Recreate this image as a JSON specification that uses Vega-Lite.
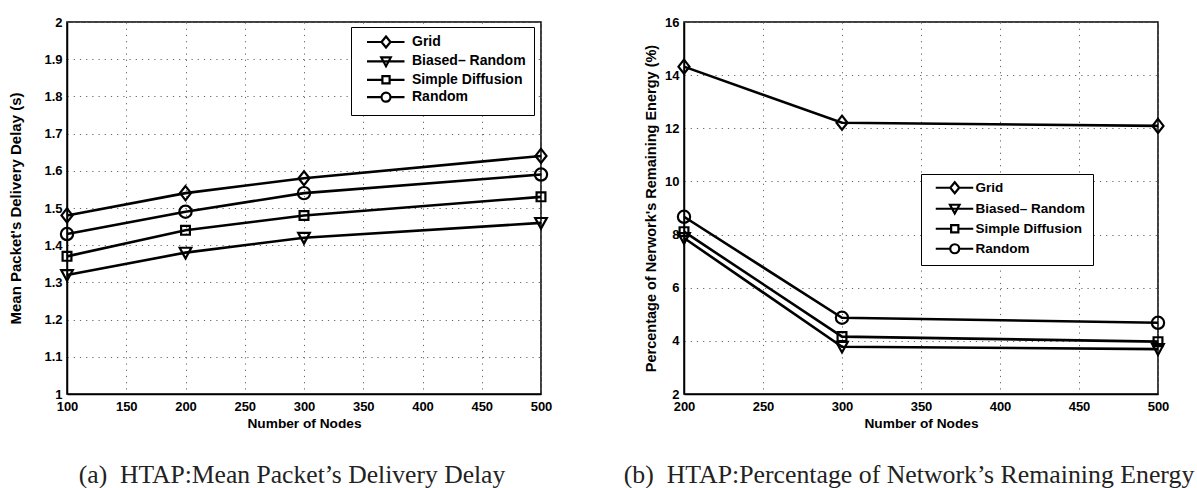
{
  "$schema": "https://vega.github.io/schema/vega-lite/v6.json",
  "padding": {"left": 8, "top": 15, "right": 0, "bottom": 0},
  "background": "white",
  "datasets": {
    "delay": [
      {"n": 100, "series": "Grid", "v": 1.48},
      {"n": 200, "series": "Grid", "v": 1.54},
      {"n": 300, "series": "Grid", "v": 1.58},
      {"n": 500, "series": "Grid", "v": 1.64},
      {"n": 100, "series": "Biased– Random", "v": 1.32},
      {"n": 200, "series": "Biased– Random", "v": 1.38},
      {"n": 300, "series": "Biased– Random", "v": 1.42},
      {"n": 500, "series": "Biased– Random", "v": 1.46},
      {"n": 100, "series": "Simple Diffusion", "v": 1.37},
      {"n": 200, "series": "Simple Diffusion", "v": 1.44},
      {"n": 300, "series": "Simple Diffusion", "v": 1.48},
      {"n": 500, "series": "Simple Diffusion", "v": 1.53},
      {"n": 100, "series": "Random", "v": 1.43},
      {"n": 200, "series": "Random", "v": 1.49},
      {"n": 300, "series": "Random", "v": 1.54},
      {"n": 500, "series": "Random", "v": 1.59}
    ],
    "energy": [
      {"n": 200, "series": "Grid", "v": 14.32},
      {"n": 300, "series": "Grid", "v": 12.21},
      {"n": 500, "series": "Grid", "v": 12.09},
      {"n": 200, "series": "Biased– Random", "v": 7.87},
      {"n": 300, "series": "Biased– Random", "v": 3.78},
      {"n": 500, "series": "Biased– Random", "v": 3.69},
      {"n": 200, "series": "Simple Diffusion", "v": 8.11},
      {"n": 300, "series": "Simple Diffusion", "v": 4.16},
      {"n": 500, "series": "Simple Diffusion", "v": 3.97},
      {"n": 200, "series": "Random", "v": 8.67},
      {"n": 300, "series": "Random", "v": 4.87},
      {"n": 500, "series": "Random", "v": 4.68}
    ]
  },
  "spacing": 143,
  "bounds": "flush",
  "hconcat": [
    {
      "width": 474,
      "height": 372,
      "data": {"name": "delay"},
      "title": {"text": "(a)\u00a0 HTAP:Mean Packet’s Delivery Delay", "orient": "bottom", "anchor": "middle", "font": "Liberation Serif", "fontSize": 25.6, "fontWeight": "normal", "color": "#222222", "offset": 33, "dx": -12},
      "encoding": {
        "x": {"field": "n", "type": "quantitative", "scale": {"domain": [100, 500], "nice": false, "zero": false},
              "axis": {"title": "Number of Nodes", "values": [100, 150, 200, 250, 300, 350, 400, 450, 500]}},
        "y": {"field": "v", "type": "quantitative", "scale": {"domain": [1, 2], "nice": false, "zero": false},
              "axis": {"title": "Mean Packet's Delivery Delay (s)", "titleFontSize": 15, "values": [1, 1.1, 1.2, 1.3, 1.4, 1.5, 1.6, 1.7, 1.8, 1.9, 2], "format": ".1~f", "titlePadding": 20}}
      },
      "layer": [
        {"mark": {"type": "line", "color": "black", "strokeWidth": 2.6},
         "encoding": {"detail": {"field": "series"}}},
        {"mark": {"type": "point", "filled": false, "color": "black", "strokeWidth": 2.2, "size": 150, "opacity": 1},
         "encoding": {"shape": {"field": "series", "legend": null,
           "scale": {"domain": ["Grid", "Biased– Random", "Simple Diffusion", "Random"],
                     "range": ["M0,-1.15L0.9,0L0,1.15L-0.9,0Z", "M-0.95,-0.8L0.95,-0.8L0,0.95Z", "M-0.72,-0.72L0.72,-0.72L0.72,0.72L-0.72,0.72Z", "circle"]}}}},
        {"transform": [{"filter": "datum.n < 0"}],
         "mark": {"type": "point", "filled": false, "color": "black", "strokeWidth": 2.2, "size": 144, "opacity": 1},
         "encoding": {"shape": {"field": "series",
           "scale": {"domain": ["Grid", "Biased– Random", "Simple Diffusion", "Random"],
                     "range": ["M0.2,0L3.1,0M4.9,0L7.7,0M4,-1.1L4.9,0L4,1.1L3.1,0Z", "M0.2,0L7.7,0M3.05,-0.8L4.95,-0.8L4,0.95Z", "M0.2,0L3.28,0M4.72,0L7.7,0M3.28,-0.72L4.72,-0.72L4.72,0.72L3.28,0.72Z", "M0.2,0L3.1,0M4.9,0L7.7,0M4.9,0A0.9,0.9 0 1,1 3.1,0A0.9,0.9 0 1,1 4.9,0Z"]},
           "legend": {"title": null, "orient": "none", "legendX": 284, "legendY": 5, "labelOffset": 39, "rowPadding": 0.4, "padding": 8, "labelFontSize": 14}}}}
      ],
      "resolve": {"scale": {"shape": "independent"}, "legend": {"shape": "independent"}}
    },
    {
      "width": 474,
      "height": 372,
      "data": {"name": "energy"},
      "title": {"text": "(b)\u00a0 HTAP:Percentage of Network’s Remaining Energy", "orient": "bottom", "anchor": "middle", "font": "Liberation Serif", "fontSize": 25.8, "fontWeight": "normal", "color": "#222222", "offset": 33, "dx": -12},
      "encoding": {
        "x": {"field": "n", "type": "quantitative", "scale": {"domain": [200, 500], "nice": false, "zero": false},
              "axis": {"title": "Number of Nodes", "values": [200, 250, 300, 350, 400, 450, 500]}},
        "y": {"field": "v", "type": "quantitative", "scale": {"domain": [2, 16], "nice": false, "zero": false},
              "axis": {"title": "Percentage of Nerwork's Remaining Energy (%)", "titleFontSize": 14.5, "values": [2, 4, 6, 8, 10, 12, 14, 16], "titlePadding": 6}}
      },
      "layer": [
        {"mark": {"type": "line", "color": "black", "strokeWidth": 2.6},
         "encoding": {"detail": {"field": "series"}}},
        {"mark": {"type": "point", "filled": false, "color": "black", "strokeWidth": 2.2, "size": 150, "opacity": 1},
         "encoding": {"shape": {"field": "series", "legend": null,
           "scale": {"domain": ["Grid", "Biased– Random", "Simple Diffusion", "Random"],
                     "range": ["M0,-1.15L0.9,0L0,1.15L-0.9,0Z", "M-0.95,-0.8L0.95,-0.8L0,0.95Z", "M-0.72,-0.72L0.72,-0.72L0.72,0.72L-0.72,0.72Z", "circle"]}}}},
        {"transform": [{"filter": "datum.n < 0"}],
         "mark": {"type": "point", "filled": false, "color": "black", "strokeWidth": 2.2, "size": 121, "opacity": 1},
         "encoding": {"shape": {"field": "series",
           "scale": {"domain": ["Grid", "Biased– Random", "Simple Diffusion", "Random"],
                     "range": ["M0.2,0L3.1,0M4.9,0L7.7,0M4,-1.1L4.9,0L4,1.1L3.1,0Z", "M0.2,0L7.7,0M3.05,-0.8L4.95,-0.8L4,0.95Z", "M0.2,0L3.28,0M4.72,0L7.7,0M3.28,-0.72L4.72,-0.72L4.72,0.72L3.28,0.72Z", "M0.2,0L3.1,0M4.9,0L7.7,0M4.9,0A0.9,0.9 0 1,1 3.1,0A0.9,0.9 0 1,1 4.9,0Z"]},
           "legend": {"title": null, "orient": "none", "legendX": 237, "legendY": 152, "labelOffset": 34, "rowPadding": 2, "padding": 7, "labelFontSize": 13.5}}}}
      ],
      "resolve": {"scale": {"shape": "independent"}, "legend": {"shape": "independent"}}
    }
  ],
  "config": {
    "font": "Liberation Sans",
    "view": {"stroke": "black", "strokeWidth": 1.5},
    "axis": {
      "labelFont": "Liberation Sans", "labelFontWeight": "bold", "labelFontSize": 13, "labelColor": "black",
      "titleFont": "Liberation Sans", "titleFontWeight": "bold", "titleFontSize": 13.7, "titleColor": "black",
      "domainColor": "black", "domainWidth": 1.5, "ticks": false, "labelPadding": 5,
      "grid": true, "gridColor": "#666666", "gridDash": [1.2, 5], "gridWidth": 1, "gridOpacity": 1,
      "labelOverlap": false, "labelFlush": false
    },
    "axisX": {"labelPadding": 6, "titlePadding": 3},
    "legend": {
      "labelFont": "Liberation Sans", "labelFontWeight": "bold", "labelColor": "black",
      "strokeColor": "black", "fillColor": "white", "cornerRadius": 0,
      "symbolStrokeColor": "black", "symbolFillColor": "white", "symbolStrokeWidth": 2.2
    }
  }
}
